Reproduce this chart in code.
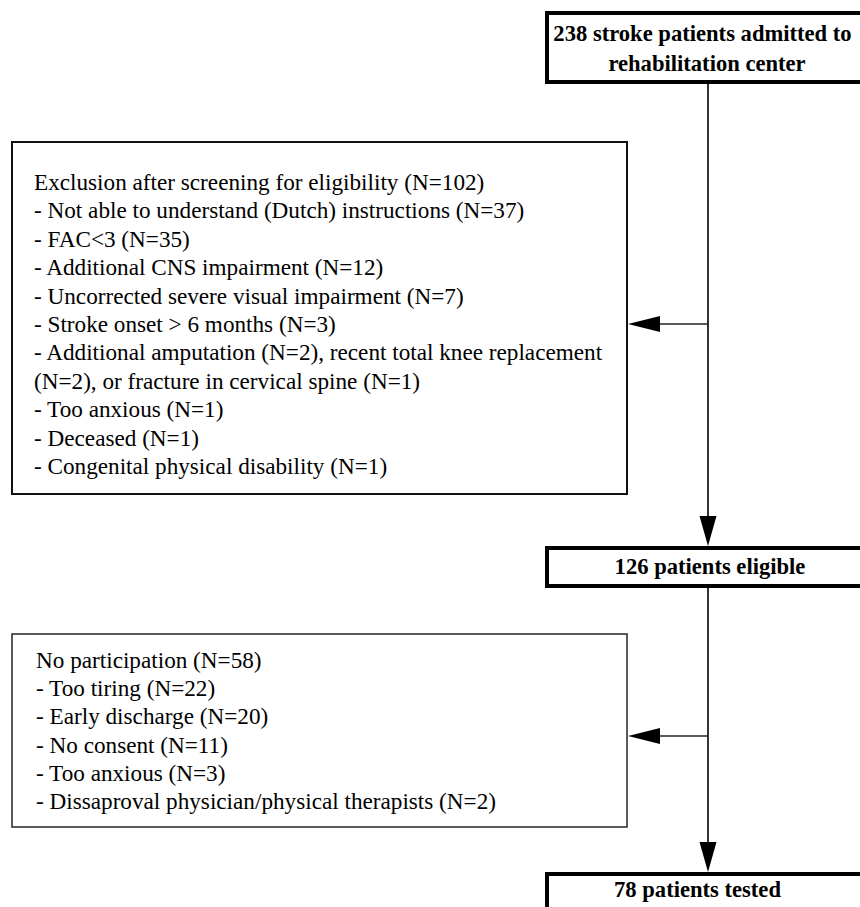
import React from "react";

const W = 860;
const H = 907;

const topBoxLines = ["238 stroke patients admitted to", "rehabilitation center"];
const eligibleLabel = "126 patients eligible";
const testedLabel = "78 patients tested";

const exclusionLines = [
  "Exclusion after screening for eligibility (N=102)",
  "- Not able to understand (Dutch) instructions (N=37)",
  "- FAC<3 (N=35)",
  "- Additional CNS impairment (N=12)",
  "- Uncorrected severe visual impairment (N=7)",
  "- Stroke onset > 6 months (N=3)",
  "- Additional amputation (N=2), recent total knee replacement",
  "(N=2), or fracture in cervical spine (N=1)",
  "- Too anxious (N=1)",
  "- Deceased (N=1)",
  "- Congenital physical disability (N=1)",
];

const participationLines = [
  "No participation (N=58)",
  "- Too tiring (N=22)",
  "- Early discharge (N=20)",
  "- No consent (N=11)",
  "- Too anxious (N=3)",
  "- Dissaproval physician/physical therapists (N=2)",
];

const FONT = "'Liberation Serif', 'Times New Roman', serif";
const FS = 23.2;
const FSB = 22.6;

function ArrowDown({ x, y1, y2 }: { x: number; y1: number; y2: number }) {
  const hl = 30, hw = 8.5;
  return (
    <g>
      <line x1={x} y1={y1} x2={x} y2={y2 - hl + 2} stroke="#000" strokeWidth={1.6} />
      <path d={`M${x - hw},${y2 - hl} L${x + hw},${y2 - hl} L${x},${y2} Z`} fill="#000" />
    </g>
  );
}

function ArrowLeft({ x1, x2, y }: { x1: number; x2: number; y: number }) {
  const hl = 32, hw = 8;
  return (
    <g>
      <line x1={x1} y1={y} x2={x2 + hl - 2} y2={y} stroke="#222" strokeWidth={1.6} />
      <path d={`M${x2 + hl},${y - hw} L${x2 + hl},${y + hw} L${x2},${y} Z`} fill="#000" />
    </g>
  );
}

export default function App() {
  const cx = 708;
  const lh = 28.4;
  return (
    <svg
      width={W}
      height={H}
      viewBox={`0 0 ${W} ${H}`}
      style={{ position: "absolute", left: 0, top: 0, background: "#fff" }}
      fontFamily={FONT}
    >
      <rect x={0} y={0} width={W} height={H} fill="#fff" />
      <ArrowDown x={cx} y1={83} y2={546} />
      <ArrowDown x={cx} y1={587} y2={872} />
      <ArrowLeft x1={cx} x2={628} y={324} />
      <ArrowLeft x1={cx} x2={628} y={736} />

      <rect x={547} y={13} width={340} height={69} fill="#fff" stroke="#000" strokeWidth={4} />
      {topBoxLines.map((t, i) => (
        <text key={i} x={i === 0 ? 702.5 : 707} y={41 + i * 30} fontSize={FSB} fontWeight="bold" textAnchor="middle" fill="#000">
          {t}
        </text>
      ))}

      <rect x={12} y={142} width={615} height={352} fill="#fff" stroke="#111" strokeWidth={2} />
      {exclusionLines.map((t, i) => (
        <text key={i} x={34} y={190 + i * lh} fontSize={FS} fill="#000">
          {t}
        </text>
      ))}

      <rect x={547} y={548} width={340} height={38} fill="#fff" stroke="#000" strokeWidth={4} />
      <text x={710} y={574} fontSize={FSB} fontWeight="bold" textAnchor="middle" fill="#000">
        {eligibleLabel}
      </text>

      <rect x={12} y={634} width={615} height={193} fill="#fff" stroke="#333" strokeWidth={1.6} />
      {participationLines.map((t, i) => (
        <text key={i} x={36} y={668 + i * 28.2} fontSize={FS} fill="#000">
          {t}
        </text>
      ))}

      <rect x={547} y={874} width={340} height={60} fill="#fff" stroke="#000" strokeWidth={4} />
      <text x={697.5} y={897} fontSize={FSB} fontWeight="bold" textAnchor="middle" fill="#000">
        {testedLabel}
      </text>
    </svg>
  );
}
